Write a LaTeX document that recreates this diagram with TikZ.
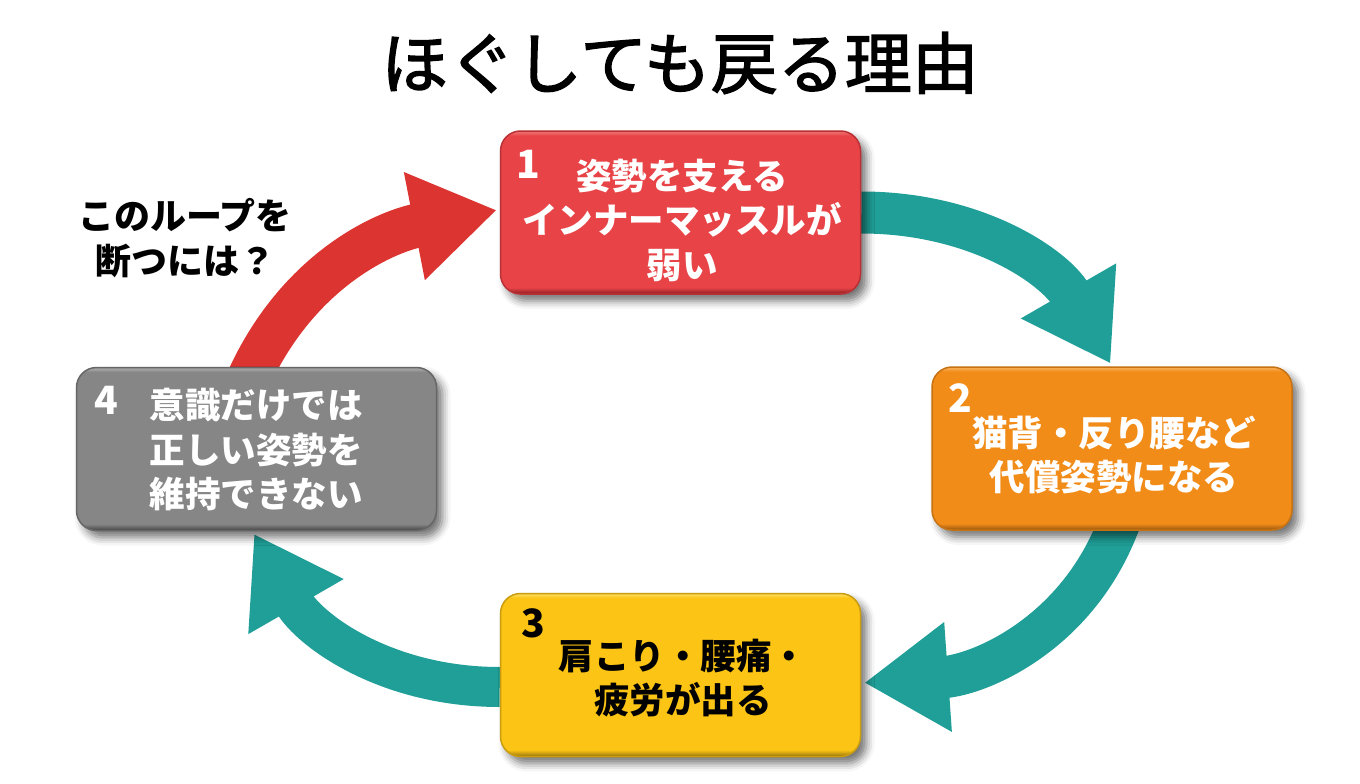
\documentclass[tikz,border=0pt]{standalone}
\usepackage{fontspec}
\newfontfamily\jp{Noto Sans CJK JP}
\newfontfamily\jpmid{Noto Sans CJK JP}[FakeBold=2]
\usepackage{tikz}
\usetikzlibrary{arrows.meta, backgrounds, shadows.blur}

\definecolor{tealA}{HTML}{1F9F98}
\definecolor{redA}{HTML}{DC3430}
\definecolor{redB}{HTML}{E84448}
\definecolor{redD}{HTML}{9C2428}
\definecolor{redL}{HTML}{EE6A6A}
\definecolor{orangeB}{HTML}{F28C18}
\definecolor{orangeD}{HTML}{A8600E}
\definecolor{orangeL}{HTML}{F7AA50}
\definecolor{yellowB}{HTML}{FCC414}
\definecolor{yellowD}{HTML}{A8820E}
\definecolor{yellowL}{HTML}{FDD850}
\definecolor{grayB}{HTML}{868686}
\definecolor{grayD}{HTML}{505050}
\definecolor{grayL}{HTML}{A4A4A4}

\newcommand{\bevelshade}[4]{\pgfdeclareverticalshading{#1}{100bp}{color(0bp)=(#2); color(25.4bp)=(#2); color(27bp)=(#3); color(73.6bp)=(#3); color(74.6bp)=(#4); color(100bp)=(#4)}}
\bevelshade{bevelred}{redD}{redB}{redL}
\bevelshade{bevelorange}{orangeD}{orangeB}{orangeL}
\bevelshade{bevelyellow}{yellowD}{yellowB}{yellowL}
\bevelshade{bevelgray}{grayD}{grayB}{grayL}

\tikzset{
	loopbox/.style={shape=rectangle, rounded corners=20pt, minimum width=360pt, minimum height=163pt, inner sep=0pt, line width=1.5pt, shade, blur shadow={shadow xshift=6pt, shadow yshift=-7pt, shadow blur radius=8pt, shadow opacity=55}},
	looparrow/.style={draw=#1, line width=42pt, -{Triangle[length=84pt, width=104pt, color=#1]}, shorten >=3pt},
	boxtext/.style={align=center, inner sep=0pt, font=\jp\bfseries\fontsize{35.5}{44.5}\selectfont},
	boxnum/.style={inner sep=0pt, font=\jp\bfseries\fontsize{39}{39}\selectfont},
}

\begin{document}
\begin{tikzpicture}[x=1pt, y=1pt]
	\useasboundingbox (0,0) rectangle (1360,-784);
	\node[font=\jpmid\fontsize{67}{67}\selectfont, inner sep=0pt] (title) at (680,-63) {ほぐしても戻る理由};

	\node[loopbox, shading=bevelred, draw=redD!60!redB] (B1) at (680.5,-212.5) {};
	\node[loopbox, shading=bevelorange, draw=orangeD!60!orangeB] (B2) at (1112,-448.5) {};
	\node[loopbox, shading=bevelyellow, draw=yellowD!60!yellowB] (B3) at (680.5,-675) {};
	\node[loopbox, shading=bevelgray, draw=grayD!60!grayB] (B4) at (256.5,-449) {};

	\node[boxnum, text=white] (N1) at (528,-164) {1};
	\node[boxnum, text=white] (N2) at (960,-398) {2};
	\node[boxnum, text=black] (N3) at (533,-623) {3};
	\node[boxnum, text=white] (N4) at (106,-400) {4};

	\node[boxtext, text=white] (T1) at (682,-220) {姿勢を支える\\インナーマッスルが\\弱い};
	\node[boxtext, text=white] (T2) at (1114,-455) {猫背・反り腰など\\代償姿勢になる};
	\node[boxtext, text=black] (T3) at (683,-678) {肩こり・腰痛・\\疲労が出る};
	\node[boxtext, text=white] (T4) at (256,-450) {意識だけでは\\正しい姿勢を\\維持できない};
	\node[boxtext, text=black, font=\jp\bfseries\fontsize{36}{44.5}\selectfont] (ask) at (185,-238) {このループを\\断つには？};

	\begin{scope}[on background layer]
		\draw[looparrow=tealA] (B1.east) to[out=0, in=120] (B2.north);
		\draw[looparrow=tealA] ([xshift=8pt, yshift=10pt]B2.south) to[out=250, in=4] ([yshift=-8pt]B3.east);
		\draw[looparrow=tealA, line width=40pt] ([yshift=-12pt]B3.west) to[out=180, in=300] ([xshift=-4pt]B4.south);
		\draw[looparrow=redA, line width=44pt] ([xshift=-7pt, yshift=-10pt]B4.north) to[out=65, in=191] ([yshift=3pt]B1.west);
	\end{scope}
\end{tikzpicture}
\end{document}
